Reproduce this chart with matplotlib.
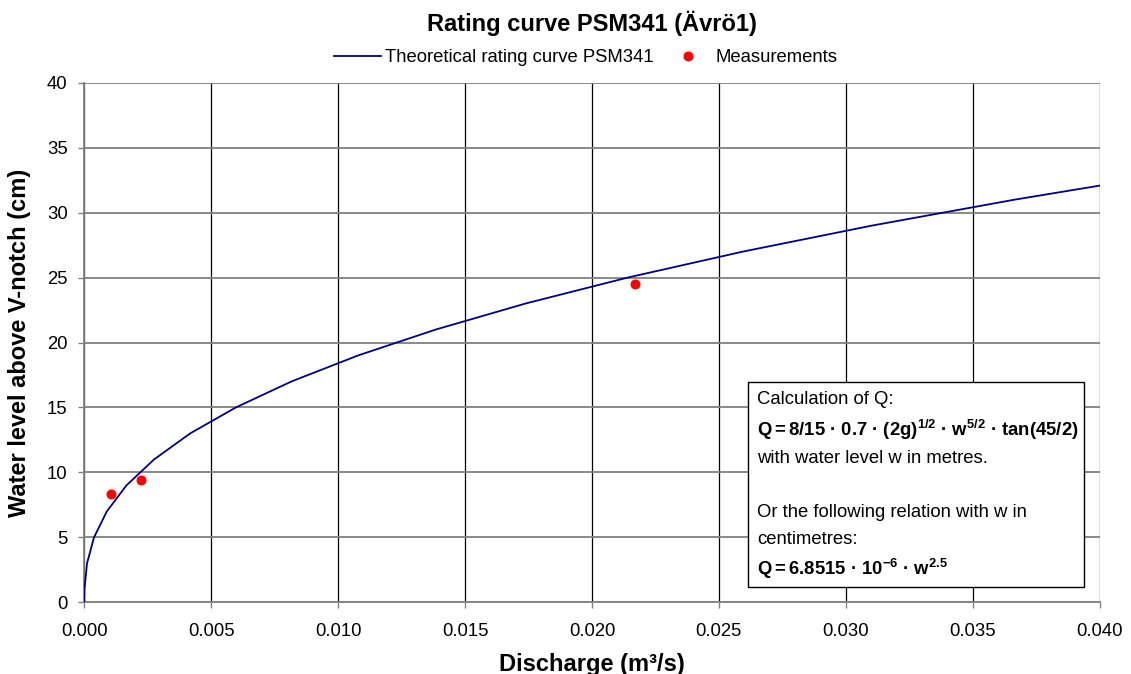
import matplotlib
matplotlib.use("Agg")
import matplotlib.pyplot as plt
from matplotlib.patches import Rectangle
from matplotlib.ticker import MultipleLocator, FormatStrFormatter

plt.rcParams['font.family'] = ['Liberation Sans', 'DejaVu Sans']
plt.rcParams['mathtext.fontset'] = 'custom'
plt.rcParams['mathtext.rm'] = 'Liberation Sans'
plt.rcParams['mathtext.it'] = 'Liberation Sans'
plt.rcParams['mathtext.bf'] = 'Liberation Sans:bold'

# Theoretical rating curve (water level in cm, discharge m3/s)
curve_level = [0, 1, 3, 5, 7, 9, 11, 13, 15, 17, 19, 21, 23, 25, 27, 29, 31, 33]
curve_q = [0.0, 0.0000069, 0.000107, 0.000383, 0.000888, 0.00166, 0.00275,
           0.00417, 0.00597, 0.00816, 0.01078, 0.01385, 0.01738, 0.02141,
           0.02595, 0.03103, 0.03666, 0.04286]

# Measurements
meas_q = [0.00104, 0.00223, 0.0217]
meas_level = [8.3, 9.4, 24.5]

W, H = 1131, 674
fig = plt.figure(figsize=(W / 100, H / 100), dpi=100)
x0, x1, yb, yt = 84.3, 1099.7, 602.3, 82.7
ax = fig.add_axes([x0 / W, 1 - yb / H, (x1 - x0) / W, (yb - yt) / H])

FS = 13.3
ax.set_xlim(0, 0.04)
ax.set_ylim(0, 40)
ax.xaxis.set_major_locator(MultipleLocator(0.005))
ax.xaxis.set_major_formatter(FormatStrFormatter('%.3f'))
ax.yaxis.set_major_locator(MultipleLocator(5))

ax.grid(axis='y', color='#808080', lw=1.3, zorder=0)
ax.grid(axis='x', color='black', lw=0.9, zorder=0)
ax.set_axisbelow(True)
for s in ['top', 'right']:
    ax.spines[s].set_visible(False)
for s in ['left', 'bottom']:
    ax.spines[s].set_color('#808080')
    ax.spines[s].set_linewidth(1.3)
ax.tick_params(axis='both', direction='out', length=4, width=1.0,
               color='#808080', labelsize=FS, pad=8)
ax.tick_params(axis='x', pad=11)

line, = ax.plot(curve_q, curve_level, color='#000080', lw=1.3,
                label='Theoretical rating curve PSM341', zorder=3)
pts, = ax.plot(meas_q, meas_level, 'o', color='#ff0000', ms=6.2, mec='#ff0000',
               label='Measurements', zorder=4, clip_on=False)

ax.set_ylabel('Water level above V-notch (cm)', fontsize=17, fontweight='bold')
ax.yaxis.set_label_coords((20 - x0) / (x1 - x0), 0.5)
ax.yaxis.label.set_va('center')
ax.set_xlabel('Discharge (m³/s)', fontsize=17, fontweight='bold')
ax.xaxis.set_label_coords(0.5, -(671 - yb) / (yb - yt))
ax.xaxis.label.set_va('baseline')

fig.text(592 / W, 1 - 31 / H, 'Rating curve PSM341 (Ävrö1)', fontsize=17,
         fontweight='bold', ha='center', va='baseline')

fig.legend(handles=[line, pts], loc='center', bbox_to_anchor=(586 / W, 1 - 58 / H),
           ncol=2, frameon=False, fontsize=FS, handlelength=2.5,
           handletextpad=0.25, columnspacing=0.6, borderpad=0)

# text box
def ax_x(px):
    return (px - x0) / (x1 - x0)

def ax_y(py):
    return (yb - py) / (yb - yt)

bl, bt, br, bb = 748, 382, 1084, 587
ax.add_patch(Rectangle((ax_x(bl), ax_y(bb)), ax_x(br) - ax_x(bl), ax_y(bt) - ax_y(bb),
                       transform=ax.transAxes, facecolor='white', edgecolor='black',
                       lw=1.0, zorder=10, clip_on=False))
tx = ax_x(757)
lines = [
    ('Calculation of Q:', 404.3, 'normal'),
    (r'$\mathbf{Q=8/15\ ·\ 0.7\ ·\ (2g)^{1/2}\ ·\ w^{5/2}\ ·\ tan(45/2)}$', 435.7, 'bold'),
    ('with water level w in metres.', 463.3, 'normal'),
    ('Or the following relation with w in', 517.3, 'normal'),
    ('centimetres:', 544.0, 'normal'),
    (r'$\mathbf{Q=6.8515\ ·\ 10^{-6}\ ·\ w^{2.5}}$', 574.7, 'bold'),
]
for txt, y, wgt in lines:
    ax.text(tx, ax_y(y), txt, transform=ax.transAxes, fontsize=FS, fontweight=wgt,
            ha='left', va='baseline', zorder=11)

fig.savefig('out.png', dpi=100)
